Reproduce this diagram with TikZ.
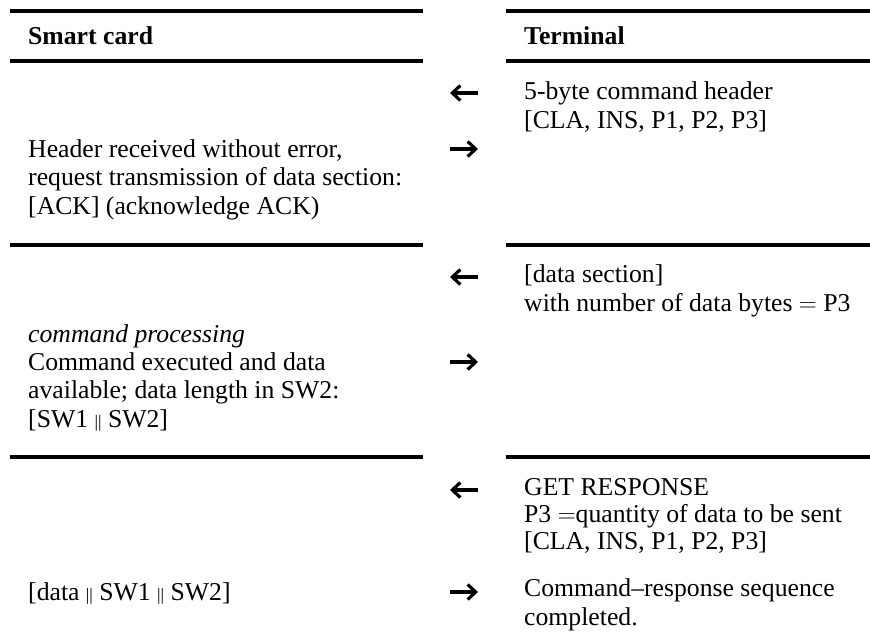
\documentclass[tikz,border=0pt]{standalone}
\usepackage{fontspec}
\setmainfont{Liberation Serif}
\usetikzlibrary{arrows.meta}
\newcommand{\bars}{{\fontsize{17.5}{17.5}\selectfont ||}}
\begin{document}
\begin{tikzpicture}[x=1pt,y=-1pt,
  % multi-line text blocks are placed by the baseline of their last line
  txt/.style={anchor=base west,inner sep=0pt,align=left,
    font=\fontsize{25.7}{28.3}\selectfont},
  rule/.style={line width=3.2pt},
  msg/.style={line width=3.2pt,-{Straight Barb[length=8pt,width=15pt]}}]
\useasboundingbox (0,0) rectangle (870,643);

% horizontal rules of the two columns
\foreach \y in {11,61,245,457} {
  \draw[rule] (10,\y) -- (422.7,\y);
  \draw[rule] (505.7,\y) -- (870,\y);
}

% column headings
\node[txt] (hcard) at (28,44) {\bfseries Smart card};
\node[txt] (hterm) at (524,44) {\bfseries Terminal};

% step 1
\node[txt] (t1) at (524,128) {5-byte command header\\{}[CLA, INS, P1, P2, P3]};
\node[txt] (c1) at (28,214) {Header received without error,\\request transmission of data section:\\{}[ACK] (acknowledge ACK)};

% step 2
\node[txt] (t2) at (524,311) {[data section]\\with number of data bytes $=$ P3};
\node[txt] (c2) at (28,427) {\textit{command processing}\\Command executed and data\\available; data length in SW2:\\{}[SW1 \bars{} SW2]};

% step 3
\node[txt,font=\fontsize{25.7}{27}\selectfont] (t3) at (524,549) {GET RESPONSE\\P3 $=$quantity of data to be sent\\{}[CLA, INS, P1, P2, P3]};
\node[txt] (c3) at (28,600) {[data \bars{} SW1 \bars{} SW2]};
\node[txt] (t4) at (524,625) {Command–response sequence\\completed.};

% message arrows between card and terminal
\coordinate (m1a) at (478,93);  \coordinate (m1b) at (450,93);
\coordinate (m2a) at (450,149); \coordinate (m2b) at (478,149);
\coordinate (m3a) at (478,277); \coordinate (m3b) at (450,277);
\coordinate (m4a) at (450,362); \coordinate (m4b) at (478,362);
\coordinate (m5a) at (478,490); \coordinate (m5b) at (450,490);
\coordinate (m6a) at (450,592); \coordinate (m6b) at (478,592);
\draw[msg] (m1a) -- (m1b);
\draw[msg] (m2a) -- (m2b);
\draw[msg] (m3a) -- (m3b);
\draw[msg] (m4a) -- (m4b);
\draw[msg] (m5a) -- (m5b);
\draw[msg] (m6a) -- (m6b);
\end{tikzpicture}
\end{document}
